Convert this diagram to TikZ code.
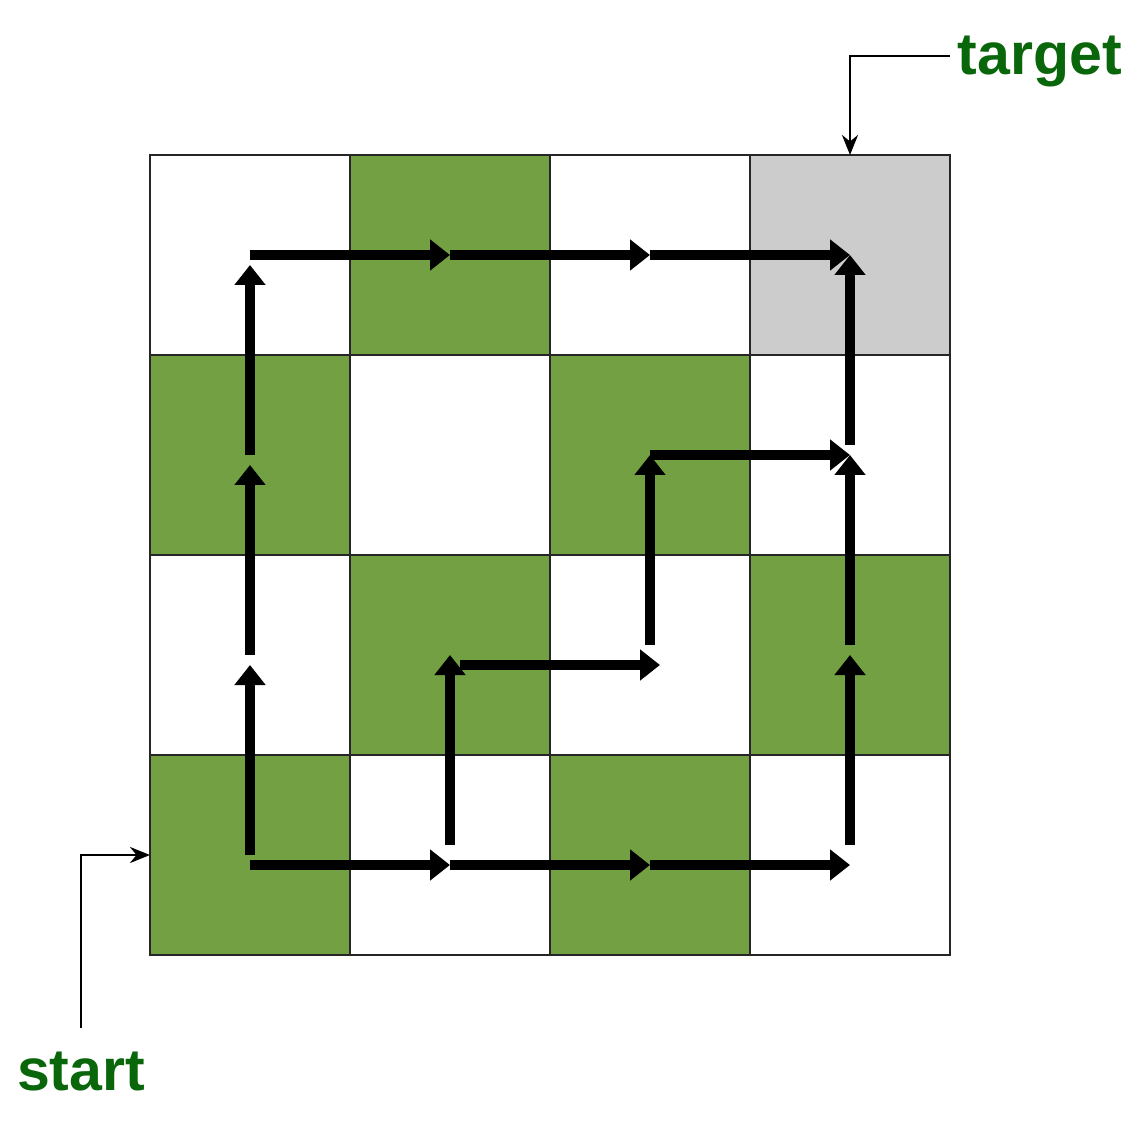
\documentclass[tikz,border=0pt]{standalone}
\usepackage{fontspec}
\newfontfamily\labelfont{Liberation Sans}
\usetikzlibrary{arrows.meta}
\definecolor{leaf}{RGB}{114,160,67}
\definecolor{goal}{RGB}{204,204,204}
\definecolor{ink}{RGB}{10,102,10}
\tikzset{
  cell/.style={draw=black!85, line width=0.5pt, minimum size=2cm, inner sep=0pt, outer sep=0pt},
  cell0/.style={cell, fill=white},
  cell1/.style={cell, fill=leaf},
  cell2/.style={cell, fill=goal},
  move/.style={line width=1mm, -{Triangle[width=3mm,length=2mm]}},
  pointer/.style={line width=0.8pt, -{Stealth[width=1.6mm,length=2mm]}},
  tag/.style={text=ink, inner sep=0pt, font=\labelfont\bfseries\fontsize{16.8}{18}\selectfont}
}
\begin{document}
\begin{tikzpicture}
  \useasboundingbox (-1.5,-1.71) rectangle (9.91,9.55);
  % board
  \foreach \r in {0,...,3}
    \foreach \c in {0,...,3}{
      \pgfmathtruncatemacro{\kind}{(\r==0 && \c==3) ? 2 : mod(\r+\c,2)}
      \node[cell\kind] (c-\r-\c) at (2*\c+1, 7-2*\r) {};
    }
  % outer route
  \foreach \a/\b in {3/2,2/1,1/0}
    \draw[move] (c-\a-0.center) -- ([yshift=-1mm]c-\b-0.center);
  \foreach \a/\b in {0/1,1/2,2/3}
    \draw[move] (c-0-\a.center) -- (c-0-\b.center);
  \foreach \a/\b in {0/1,1/2,2/3}
    \draw[move] ([yshift=-1mm]c-3-\a.center) -- ([yshift=-1mm]c-3-\b.center);
  \foreach \a/\b in {3/2,2/1,1/0}
    \draw[move] ([yshift=1mm]c-\a-3.center) -- (c-\b-3.center);
  % inner route
  \draw[move] ([yshift=1mm]c-3-1.center) -- (c-2-1.center);
  \draw[move] ([shift={(1mm,-1mm)}]c-2-1.center) -- ([shift={(1mm,-1mm)}]c-2-2.center);
  \draw[move] ([yshift=1mm]c-2-2.center) -- (c-1-2.center);
  \draw[move] (c-1-2.center) -- (c-1-3.center);
  % labels
  \node[tag, anchor=base west] (target) at (8.07,8.8) {target};
  \node[tag, anchor=base] (start) at (-0.69,-1.35) {start};
  \draw[pointer] ([shift={(-0.7mm,0.6mm)}]target.west) -| (c-0-3.north);
  \draw[pointer] ([yshift=2.3mm]start.north) |- (c-3-0.west);
\end{tikzpicture}
\end{document}
